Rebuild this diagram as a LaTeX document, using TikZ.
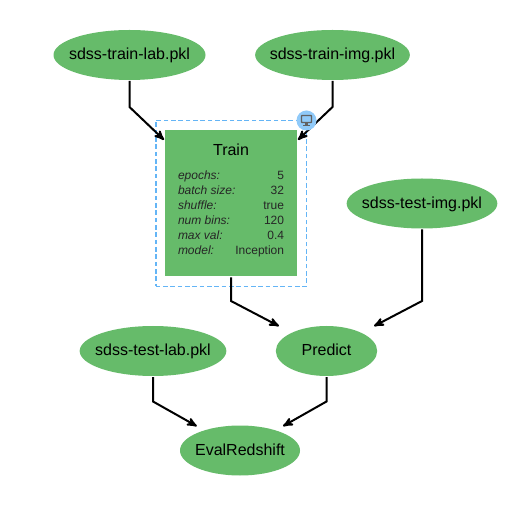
\documentclass[tikz,border=0pt]{standalone}
\usepackage{fontspec}
\setmainfont{Liberation Sans}
\usetikzlibrary{arrows,shapes.geometric}
\definecolor{nodegreen}{HTML}{66BB6A}
\definecolor{dashblue}{HTML}{64B5F6}
\definecolor{badgeblue}{HTML}{90CAF9}
\definecolor{icongray}{HTML}{616161}
\begin{document}
\begin{tikzpicture}[x=0.75pt,y=-0.75pt,>=stealth',line width=1.5pt,
    data/.style={ellipse,fill=nodegreen,inner xsep=-25pt,inner ysep=0pt,minimum height=37.5pt,
                 text height=8.6pt,text depth=1.5pt,font=\fontsize{12}{14}\selectfont},
    task/.style={rectangle,fill=nodegreen,inner sep=0pt,minimum width=99pt,minimum height=109.5pt},
    link/.style={->,black}]
      \useasboundingbox (0,0) rectangle (528,516);

      \node[data,minimum width=114pt]   (trainlab) at (129.5,55)  {sdss-train-lab.pkl};
      \node[data,minimum width=116pt]   (trainimg) at (332.5,55)  {sdss-train-img.pkl};
      \node[data,minimum width=113pt]   (testimg)  at (422,203.5) {sdss-test-img.pkl};
      \node[data,minimum width=110pt]   (testlab)  at (153,351)   {sdss-test-lab.pkl};
      \node[data,minimum width=76pt]    (predict)  at (326.5,351) {Predict};
      \node[data,minimum width=90pt]    (eval)     at (240,450.5) {EvalRedshift};

      \node[task] (train) at (231,203.5) {};
      \node[draw=dashblue,dashed,line width=1.25pt,dash pattern=on 3.5pt off 2pt,
            minimum width=113pt,minimum height=124.5pt,inner sep=0pt] (trainbox) at (231,203.5) {};
      \node[font=\fontsize{12}{14}\selectfont] (traintitle) at (231,150) {Train};
      \node[inner sep=0pt,font=\fontsize{9}{11.25}\selectfont,text=black!85] (trainpar) at (231,214) {%
        \begin{tabular*}{79.5pt}{@{\extracolsep{\fill}}l@{}r@{}}
          \itshape epochs:     & 5 \\
          \itshape batch size: & 32 \\
          \itshape shuffle:    & true \\
          \itshape num bins:   & 120 \\
          \itshape max val:    & 0.4 \\
          \itshape model:      & Inception
        \end{tabular*}};

      \coordinate (a1) at (129.5,107);
      \coordinate (a2) at (332.5,107);
      \coordinate (a3) at (231,301);
      \coordinate (a4) at (422,301);
      \coordinate (a5) at (153,401.5);
      \coordinate (a6) at (326.5,401.5);

      \draw[link] (trainlab) -- (a1) -- (train);
      \draw[link] (trainimg) -- (a2) -- (train);
      \draw[link,shorten >=10pt] (train) -- (a3) -- (predict);
      \draw[link,shorten >=10pt] (testimg) -- (a4) -- (predict);
      \draw[link,shorten >=5.5pt] (testlab) -- (a5) -- (eval);
      \draw[link,shorten >=5.5pt] (predict) -- (a6) -- (eval);

      \node[circle,fill=badgeblue,minimum size=15pt,inner sep=0pt] (badge) at (306.5,120.5) {};
      \draw[icongray,line width=1pt,rounded corners=0.5pt] (301.5,115.5) rectangle (311.5,122.5);
      \fill[icongray] (305,123) rectangle (308,125);
      \fill[icongray] (303,125) rectangle (310,126.2);
    \end{tikzpicture}
\end{document}
